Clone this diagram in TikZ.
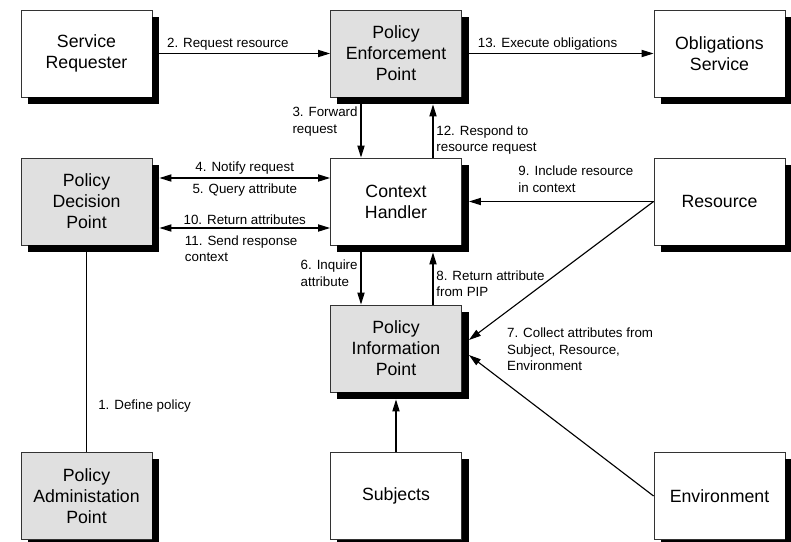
\documentclass[tikz,border=0pt]{standalone}
\usepackage{fontspec}
\setmainfont{Liberation Sans}
\usetikzlibrary{arrows.meta,calc}
\tikzset{
  box/.style={draw=black!80, line width=0.6pt, fill=white, minimum width=3.275cm,
    minimum height=2.175cm, align=center, font=\fontsize{12.6}{15}\selectfont},
  grey/.style={box, fill=black!12},
  lbl/.style={font=\fontsize{9.5}{11.8}\selectfont, align=left, inner sep=2pt},
  arr/.style={-{Triangle[length=3mm,width=1.8mm]}, line width=0.8pt},
  arrr/.style={{Triangle[length=3mm,width=1.8mm]}-{Triangle[length=3mm,width=1.8mm]}, line width=0.8pt},
}
\begin{document}
\begin{tikzpicture}[x=0.025cm, y=0.025cm]
  \useasboundingbox (0,0) rectangle (791,-541);
  \node[box] (sr) at (86.5,-53.5) {Service\\Requester};
  \node[grey] (pep) at (396,-53.5) {Policy\\Enforcement\\Point};
  \node[box] (os) at (719.5,-53.5) {Obligations\\Service};
  \node[grey] (pdp) at (86.5,-201.5) {Policy\\Decision\\Point};
  \node[box] (ch) at (396,-201.5) {Context\\Handler};
  \node[box] (res) at (719.5,-201.5) {Resource};
  \node[grey] (pip) at (396,-348.5) {Policy\\Information\\Point};
  \node[grey] (pap) at (86.5,-496) {Policy\\Administation\\Point};
  \node[box] (subj) at (396,-496) {Subjects};
  \node[box] (env) at (719.5,-496) {Environment};
  \foreach \n in {sr,pep,os,pdp,ch,res,pip,pap,subj,env} {
    \fill[black] ($(\n.north east)+(0,-7)$) rectangle ($(\n.south east)+(7,-7)$);
    \fill[black] ($(\n.south west)+(7,0)$) rectangle ($(\n.south east)+(7,-7)$);
  }

  \draw[arr] ($(sr.east)+(7,0)$) -- (pep.west) node[lbl, pos=0.025, anchor=south west] {2. Request resource};
  \draw[arr] ($(pep.east)+(7,0)$) -- (os.west) node[lbl, pos=0.03, anchor=south west] {13. Execute obligations};
  \draw[arr] ($(pep.south)+(-35,-7)$) -- ($(ch.north)+(-35,0)$) node[lbl, pos=0.32, left] {3. Forward\\request};
  \draw[arr] ($(ch.north)+(37,0)$) -- ($(pep.south)+(37,-7)$) node[lbl, pos=0.33, right] {12. Respond to\\resource request};
  \draw[arrr] ($(pdp.east)+(7,23.5)$) -- ($(ch.west)+(0,23.5)$)
    node[lbl, midway, above] {4. Notify request} node[lbl, midway, below, yshift=-2] {5. Query attribute};
  \draw[arrr] ($(pdp.east)+(7,-26.5)$) -- ($(ch.west)+(0,-26.5)$)
    node[lbl, midway, above] {10. Return attributes} node[lbl, pos=0.13, anchor=north west, yshift=-3] {11. Send response\\context};
  \draw[arr] ($(ch.south)+(-35,-7)$) -- ($(pip.north)+(-35,0)$) node[lbl, pos=0.4, left] {6. Inquire\\attribute};
  \draw[arr] ($(pip.north)+(37,0)$) -- ($(ch.south)+(37,-7)$) node[lbl, pos=0.4, right] {8. Return attribute\\from PIP};
  \draw[arr] (res.west) -- ($(ch.east)+(7,0)$) node[lbl, pos=0.75, anchor=south west, yshift=4] {9. Include resource\\in context};
  \draw[arr] (res.west) -- ($(pip.east)+(7,8.5)$);
  \draw[arr] (env.west) -- ($(pip.east)+(7,-6.5)$);
  \draw[arr] (subj.north) -- ($(pip.south)+(0,-7)$);
  \draw[line width=0.8pt] (pap.north) -- ($(pdp.south)+(0,-7)$) node[lbl, pos=0.23, right, xshift=6] {1. Define policy};
  \node[lbl, anchor=north west] (l7) at (504,-325) {7. Collect attributes from\\Subject, Resource,\\Environment};
\end{tikzpicture}
\end{document}
